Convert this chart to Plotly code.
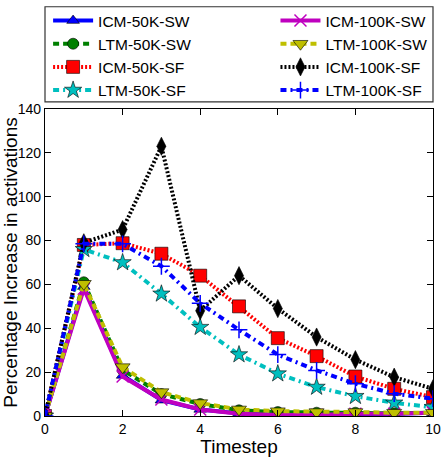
import plotly.graph_objects as go

timesteps = [0, 1, 2, 3, 4, 5, 6, 7, 8, 9, 10]

icm_50k_sw = [0, 59, 18.5, 7.2, 3.0, 1.2, 0.6, 0.5, 0.8, 1.0, 1.5]
ltm_50k_sw = [0, 61, 21, 10, 5.5, 2.6, 1.8, 1.5, 1.5, 1.2, 1.5]
icm_50k_sf = [0, 78, 78.8, 74, 64, 50, 35.5, 27.3, 18, 12.4, 8.6]
ltm_50k_sf = [0, 76, 70, 55.7, 40.5, 28, 19.3, 13.2, 9, 6, 4]
icm_100k_sw = [0, 58, 18, 7.5, 3.0, 1.0, 0.5, 0.5, 1.0, 1.0, 1.5]
ltm_100k_sw = [0, 60.3, 22.3, 10.9, 5.9, 3.0, 2.2, 1.8, 1.8, 1.5, 1.5]
icm_100k_sf = [0, 79, 85, 123, 48, 64, 49, 36, 25.7, 17.7, 12.4]
ltm_100k_sf = [0, 78.5, 78.5, 68.3, 51.4, 39.3, 28, 20.8, 14.7, 10.2, 7.9]

series = [
    ("ICM-50K-SW", icm_50k_sw, "#0000ff", "solid", "triangle-up", 11, "legend"),
    ("LTM-50K-SW", ltm_50k_sw, "#008000", "6px,4px", "circle", 11, "legend"),
    ("ICM-50K-SF", icm_50k_sf, "#ff0000", "2px,2px", "square", 13, "legend"),
    ("LTM-50K-SF", ltm_50k_sf, "#00bfbf", "6px,4px,2px,4px", "star", 13, "legend"),
    ("ICM-100K-SW", icm_100k_sw, "#bf00bf", "solid", "x-thin", 12, "legend2"),
    ("LTM-100K-SW", ltm_100k_sw, "#bfbf00", "6px,4px", "triangle-down", 13, "legend2"),
    ("ICM-100K-SF", icm_100k_sf, "#000000", "2px,2px", "diamond-tall", 13, "legend2"),
    ("LTM-100K-SF", ltm_100k_sf, "#0000ff", "6px,4px,2px,4px", "cross-thin", 12, "legend2"),
]

fig = go.Figure()
for name, vals, color, dash, sym, size, leg in series:
    thin = sym.endswith("-thin")
    fig.add_trace(go.Scatter(
        x=timesteps, y=vals, name=name, mode="lines+markers",
        line=dict(color=color, width=4, dash=dash),
        marker=dict(symbol=sym, size=size, color=color,
                    line=dict(color=color if thin else "black", width=1.5 if thin else 0.6)),
        legend=leg,
    ))

axis_common = dict(
    showline=True, linecolor="black", linewidth=1.2, mirror="ticks",
    ticks="inside", ticklen=6, tickcolor="black", showgrid=False, zeroline=False,
    ticklabeloverflow="allow",
    tickfont=dict(family="Liberation Sans, Arial", size=14, color="black"),
)

leg_common = dict(
    orientation="v", xanchor="left", y=1.342, yanchor="top",
    borderwidth=0, bgcolor="rgba(0,0,0,0)",
    font=dict(size=15.5, color="black"), itemwidth=40, tracegroupgap=0,
    traceorder="normal",
)

fig.update_layout(
    width=445, height=457,
    margin=dict(l=44, r=4, t=109, b=41),
    plot_bgcolor="white", paper_bgcolor="white",
    font=dict(family="Liberation Sans, Arial", color="black"),
    xaxis=dict(range=[0, 10], dtick=2, title=dict(text="Timestep", font=dict(size=19), standoff=2), **axis_common),
    yaxis=dict(range=[0, 140], dtick=20, title=dict(text="Percentage Increase in activations", font=dict(size=19), standoff=0), **axis_common),
    legend=dict(x=0.008, **leg_common),
    legend2=dict(x=0.594, **leg_common),
    showlegend=True,
    shapes=[dict(type="rect", xref="paper", yref="paper", x0=0, x1=1, y0=1.023, y1=1.333,
                 line=dict(color="#333333", width=1.2), fillcolor="white", layer="below")],
)

fig.write_html("out.html")
